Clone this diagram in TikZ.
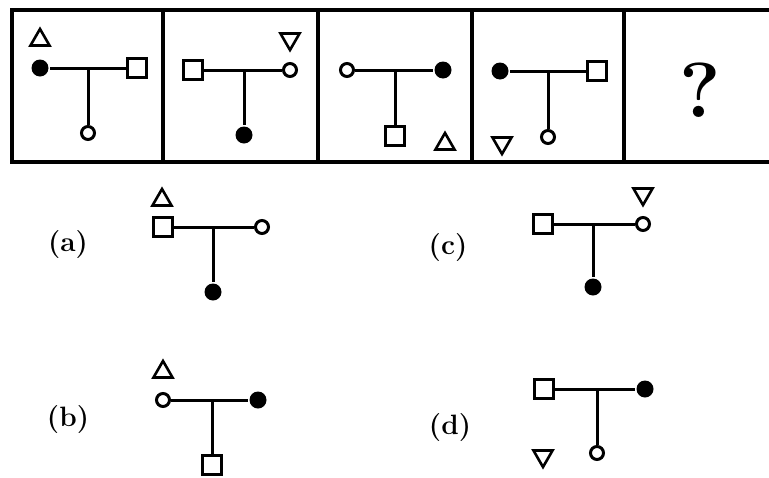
\documentclass[tikz,border=0pt]{standalone}
\usepackage{tikz}
\usetikzlibrary{shapes.geometric}

\begin{document}
\begin{tikzpicture}[x=1pt, y=-1pt, line width=3pt,
  fdot/.style={circle, fill, inner sep=0pt, minimum size=17pt},
  odot/.style={circle, draw, fill=white, inner sep=0pt, minimum size=13pt},
  sqbox/.style={rectangle, draw, inner sep=0pt, minimum size=19pt},
  triup/.style={regular polygon, regular polygon sides=3, draw,
    inner sep=0pt, minimum size=22pt, line width=2.6pt},
  tridown/.style={triup, shape border rotate=180},
  optlabel/.style={font=\fontsize{28}{28}\selectfont\bfseries}]
  \useasboundingbox (0,0) rectangle (769,477);

  % question figures
  \draw[line width=3.2pt] (12,10) rectangle (780,162);
  \foreach \xd in {163,318,472,624}
    \draw[line width=3.2pt] (\xd,10) -- (\xd,162);

  % figure 1
  \node[triup] (p1tri) at (40,40) {};
  \node[fdot] (p1l) at (40,68) {};
  \node[sqbox] (p1r) at (137,68) {};
  \node[odot] (p1b) at (88,133) {};
  \draw (p1l) -- (p1r);
  \draw (p1l -| p1b) -- (p1b);

  % figure 2
  \node[tridown] (p2tri) at (290,39) {};
  \node[sqbox] (p2l) at (193,70) {};
  \node[odot] (p2r) at (290,70) {};
  \node[fdot] (p2b) at (244,135) {};
  \draw (p2l) -- (p2r);
  \draw (p2l -| p2b) -- (p2b);

  % figure 3
  \node[odot] (p3l) at (347,70) {};
  \node[fdot] (p3r) at (443,70) {};
  \node[sqbox] (p3b) at (395,136) {};
  \node[triup] (p3tri) at (445,144) {};
  \draw (p3l) -- (p3r);
  \draw (p3l -| p3b) -- (p3b);

  % figure 4
  \node[fdot] (p4l) at (500,71) {};
  \node[sqbox] (p4r) at (597,71) {};
  \node[odot] (p4b) at (548,137) {};
  \node[tridown] (p4tri) at (502,143) {};
  \draw (p4l) -- (p4r);
  \draw (p4l -| p4b) -- (p4b);

  % figure 5
  \node[font=\fontsize{78}{78}\selectfont\bfseries] (qmark) at (700,90) {?};

  % answer (a)
  \node[optlabel] (alab) at (68,245) {(a)};
  \node[triup] (atri) at (162,200) {};
  \node[sqbox] (al) at (163,227) {};
  \node[odot] (ar) at (262,227) {};
  \node[fdot] (ab) at (213,292) {};
  \draw (al) -- (ar);
  \draw (ar -| ab) -- (ab);

  % answer (c)
  \node[optlabel] (clab) at (448,248) {(c)};
  \node[sqbox] (cl) at (543,224) {};
  \node[odot] (cr) at (643,224) {};
  \node[tridown] (ctri) at (643,194) {};
  \node[fdot] (cb) at (593,287) {};
  \draw (cl) -- (cr);
  \draw (cl -| cb) -- (cb);

  % answer (b)
  \node[optlabel] (blab) at (68,420) {(b)};
  \node[triup] (btri) at (163,372) {};
  \node[odot] (bl) at (163,400) {};
  \node[fdot] (br) at (258,400) {};
  \node[sqbox] (bb) at (212,465) {};
  \draw (bl) -- (br);
  \draw (bl -| bb) -- (bb);

  % answer (d)
  \node[optlabel] (dlab) at (450,428) {(d)};
  \node[sqbox] (dl) at (544,389) {};
  \node[fdot] (dr) at (645,389) {};
  \node[odot] (db) at (597,453) {};
  \node[tridown] (dtri) at (543,456) {};
  \draw (dl) -- (dr);
  \draw (dl -| db) -- (db);
\end{tikzpicture}
\end{document}
